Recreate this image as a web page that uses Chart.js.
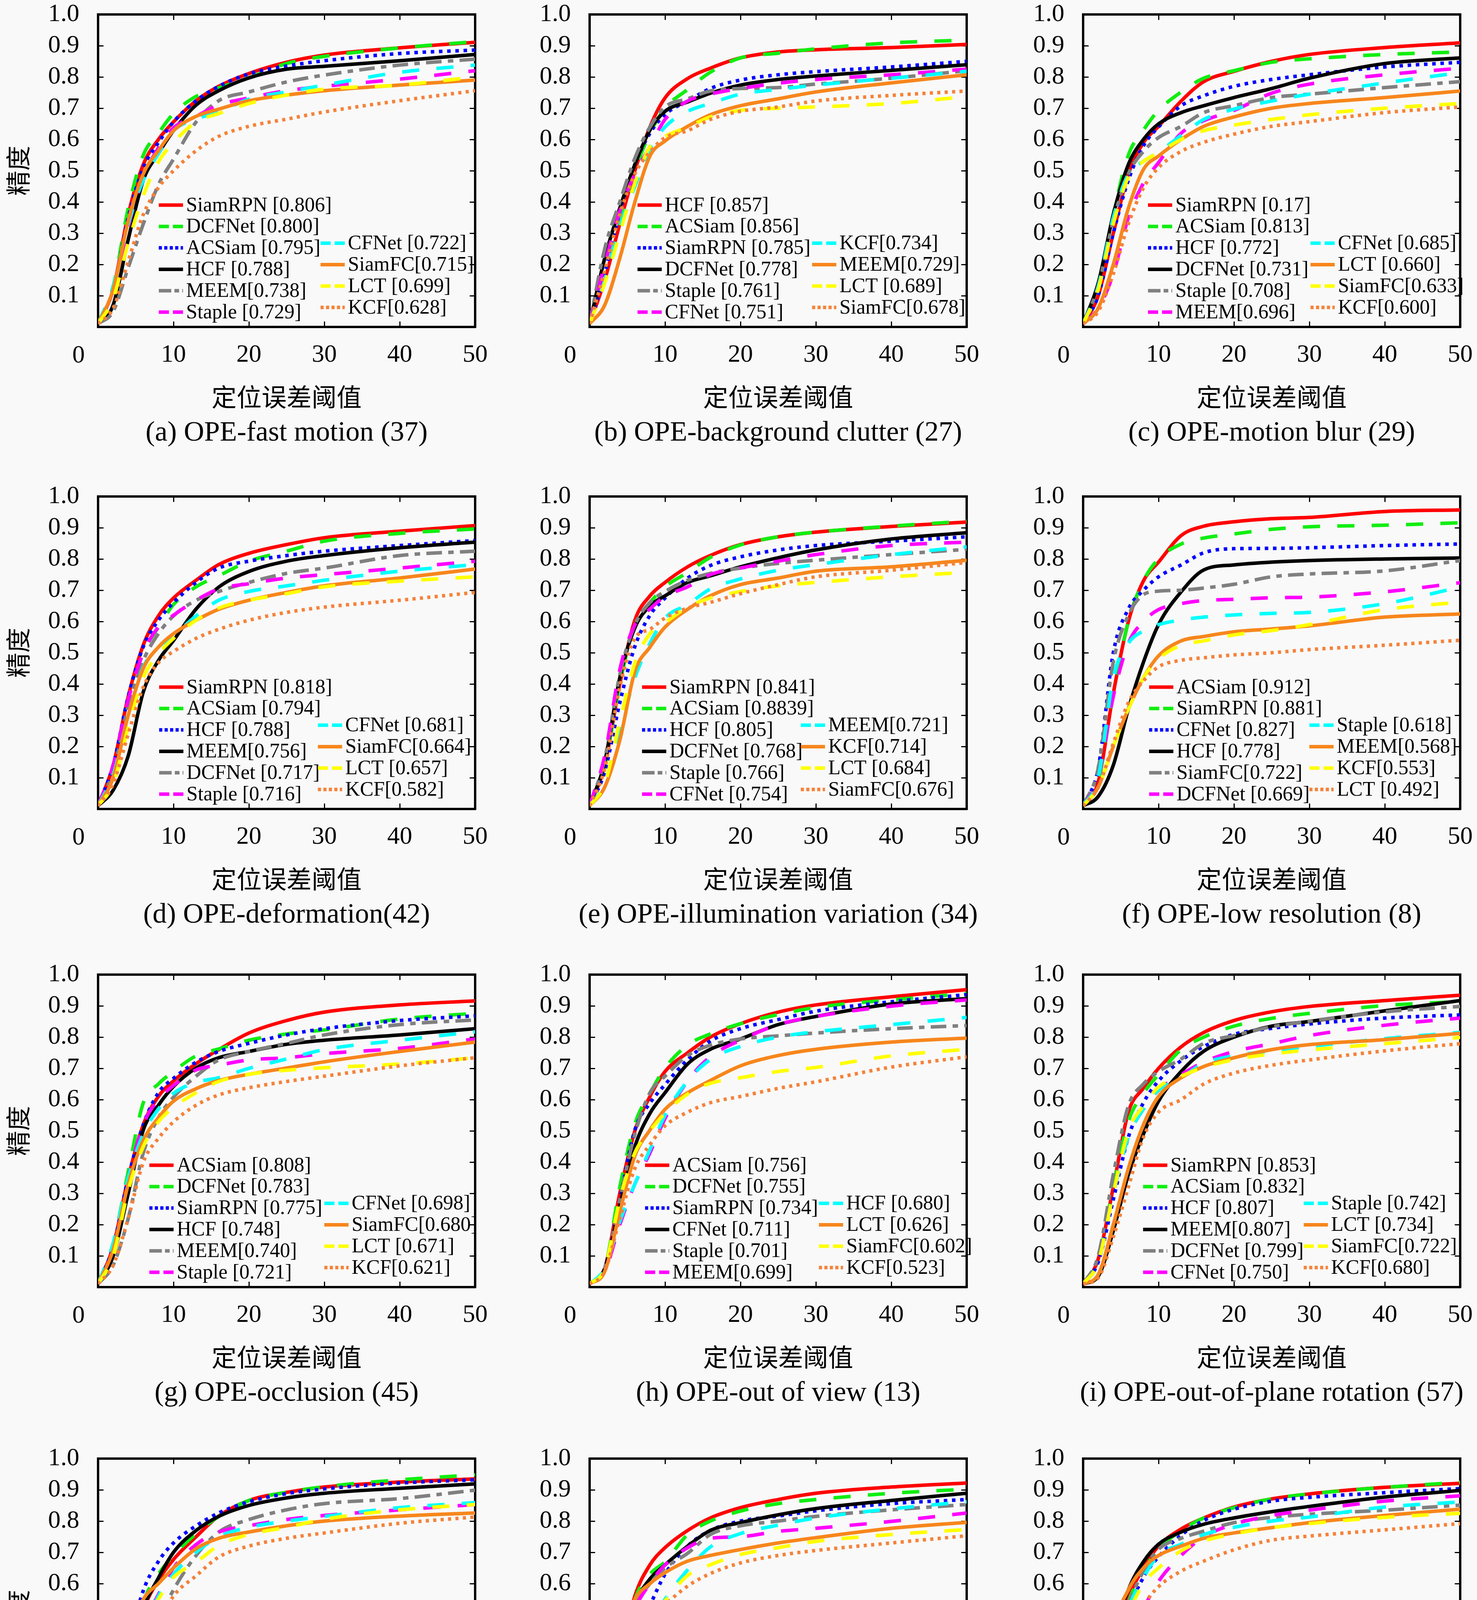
<!DOCTYPE html>
<html>
<head>
<meta charset="utf-8">
<script src="https://cdn.jsdelivr.net/npm/chart.js@4.4.1/dist/chart.umd.min.js"></script>
<style>
  html, body { margin: 0; padding: 0; background: #f9f9f9; }
  body { width: 3780px; height: 4859px; position: relative; overflow: hidden; }
  canvas { position: absolute; }
</style>
</head>
<body>
<script>
const thresholds = [0, 2, 4, 6, 8, 10, 13, 16, 20, 25, 30, 40, 50];

// (a) fast motion
const fastMotionLabels = ['SiamRPN [0.806]', 'DCFNet [0.800]', 'ACSiam [0.795]', 'HCF [0.788]', 'MEEM[0.738]',
  'Staple [0.729]', 'CFNet [0.722]', 'SiamFC[0.715]', 'LCT [0.699]', 'KCF[0.628]'];
const fastMotion = [
  [0.01, 0.12, 0.36, 0.52, 0.60, 0.656, 0.724, 0.77, 0.811, 0.847, 0.87, 0.893, 0.911],
  [0.01, 0.13, 0.38, 0.55, 0.62, 0.683, 0.738, 0.765, 0.797, 0.843, 0.866, 0.893, 0.913],
  [0.01, 0.12, 0.35, 0.51, 0.59, 0.656, 0.724, 0.77, 0.81, 0.835, 0.852, 0.875, 0.886],
  [0.01, 0.07, 0.28, 0.47, 0.555, 0.628, 0.71, 0.756, 0.797, 0.825, 0.834, 0.852, 0.872],
  [0.01, 0.05, 0.19, 0.33, 0.455, 0.537, 0.656, 0.724, 0.752, 0.784, 0.806, 0.838, 0.857],
  [0.01, 0.10, 0.32, 0.48, 0.573, 0.637, 0.674, 0.71, 0.733, 0.756, 0.77, 0.793, 0.82],
  [0.01, 0.13, 0.33, 0.47, 0.555, 0.628, 0.665, 0.688, 0.729, 0.752, 0.774, 0.815, 0.838],
  [0.01, 0.12, 0.34, 0.49, 0.564, 0.628, 0.674, 0.697, 0.724, 0.742, 0.756, 0.774, 0.79],
  [0.01, 0.09, 0.27, 0.42, 0.528, 0.59, 0.656, 0.683, 0.715, 0.742, 0.761, 0.774, 0.80],
  [0.01, 0.06, 0.21, 0.36, 0.446, 0.50, 0.564, 0.61, 0.642, 0.665, 0.688, 0.724, 0.756]
];

// (b) background clutter
const clutterLabels = ['HCF [0.857]', 'ACSiam [0.856]', 'SiamRPN [0.785]', 'DCFNet [0.778]', 'Staple [0.761]',
  'CFNet [0.751]', 'KCF[0.734]', 'MEEM[0.729]', 'LCT [0.689]', 'SiamFC[0.678]'];
const clutter = [
  [0.01, 0.15, 0.33, 0.50, 0.64, 0.733, 0.795, 0.828, 0.861, 0.88, 0.887, 0.894, 0.904],
  [0.01, 0.15, 0.34, 0.50, 0.62, 0.70, 0.76, 0.815, 0.861, 0.876, 0.89, 0.909, 0.918],
  [0.01, 0.17, 0.37, 0.52, 0.62, 0.68, 0.723, 0.763, 0.79, 0.807, 0.817, 0.832, 0.85],
  [0.01, 0.22, 0.38, 0.52, 0.63, 0.69, 0.72, 0.748, 0.774, 0.792, 0.803, 0.821, 0.839],
  [0.01, 0.25, 0.40, 0.54, 0.64, 0.704, 0.73, 0.755, 0.763, 0.766, 0.777, 0.796, 0.82],
  [0.01, 0.20, 0.37, 0.49, 0.577, 0.664, 0.723, 0.745, 0.763, 0.78, 0.792, 0.807, 0.825],
  [0.01, 0.15, 0.32, 0.45, 0.57, 0.64, 0.69, 0.715, 0.745, 0.76, 0.774, 0.796, 0.818],
  [0.01, 0.07, 0.22, 0.40, 0.547, 0.595, 0.642, 0.679, 0.708, 0.73, 0.752, 0.781, 0.807],
  [0.01, 0.14, 0.30, 0.46, 0.577, 0.61, 0.64, 0.672, 0.693, 0.70, 0.704, 0.715, 0.737],
  [0.01, 0.18, 0.36, 0.49, 0.56, 0.606, 0.628, 0.664, 0.69, 0.704, 0.723, 0.741, 0.755]
];

// (c) motion blur
const blurLabels = ['SiamRPN [0.17]', 'ACSiam [0.813]', 'HCF [0.772]', 'DCFNet [0.731]', 'Staple [0.708]',
  'MEEM[0.696]', 'CFNet [0.685]', 'LCT [0.660]', 'SiamFC[0.633]', 'KCF[0.600]'];
const blur = [
  [0.01, 0.10, 0.30, 0.49, 0.59, 0.642, 0.723, 0.785, 0.818, 0.85, 0.872, 0.894, 0.909],
  [0.01, 0.12, 0.36, 0.55, 0.63, 0.693, 0.752, 0.796, 0.82, 0.847, 0.858, 0.872, 0.88],
  [0.01, 0.10, 0.30, 0.47, 0.58, 0.64, 0.708, 0.74, 0.77, 0.792, 0.807, 0.832, 0.847],
  [0.01, 0.14, 0.36, 0.52, 0.60, 0.65, 0.686, 0.708, 0.734, 0.763, 0.796, 0.843, 0.861],
  [0.01, 0.13, 0.34, 0.49, 0.562, 0.606, 0.642, 0.686, 0.708, 0.734, 0.745, 0.766, 0.785],
  [0.01, 0.06, 0.17, 0.35, 0.46, 0.526, 0.62, 0.66, 0.693, 0.748, 0.777, 0.807, 0.828],
  [0.01, 0.13, 0.35, 0.49, 0.53, 0.56, 0.613, 0.664, 0.697, 0.723, 0.745, 0.781, 0.814],
  [0.01, 0.06, 0.20, 0.38, 0.504, 0.547, 0.60, 0.642, 0.672, 0.70, 0.715, 0.734, 0.755],
  [0.01, 0.12, 0.33, 0.48, 0.53, 0.558, 0.60, 0.628, 0.646, 0.664, 0.679, 0.70, 0.715],
  [0.01, 0.05, 0.17, 0.33, 0.445, 0.51, 0.562, 0.591, 0.617, 0.642, 0.657, 0.686, 0.704]
];

// (d) deformation
const deformLabels = ['SiamRPN [0.818]', 'ACSiam [0.794]', 'HCF [0.788]', 'MEEM[0.756]', 'DCFNet [0.717]',
  'Staple [0.716]', 'CFNet [0.681]', 'SiamFC[0.664]', 'LCT [0.657]', 'KCF[0.582]'];
const deform = [
  [0.01, 0.14, 0.36, 0.525, 0.618, 0.675, 0.732, 0.782, 0.818, 0.846, 0.868, 0.889, 0.907],
  [0.01, 0.14, 0.35, 0.50, 0.582, 0.654, 0.711, 0.746, 0.793, 0.825, 0.857, 0.882, 0.896],
  [0.01, 0.14, 0.36, 0.52, 0.604, 0.66, 0.725, 0.771, 0.793, 0.811, 0.825, 0.843, 0.859],
  [0.01, 0.06, 0.17, 0.375, 0.475, 0.539, 0.64, 0.71, 0.76, 0.793, 0.811, 0.836, 0.854],
  [0.01, 0.12, 0.33, 0.475, 0.561, 0.618, 0.668, 0.696, 0.725, 0.754, 0.771, 0.811, 0.825],
  [0.01, 0.14, 0.35, 0.50, 0.582, 0.62, 0.668, 0.704, 0.721, 0.739, 0.75, 0.771, 0.793],
  [0.01, 0.11, 0.30, 0.454, 0.518, 0.554, 0.618, 0.668, 0.696, 0.714, 0.732, 0.761, 0.782],
  [0.01, 0.10, 0.30, 0.45, 0.518, 0.561, 0.604, 0.639, 0.668, 0.693, 0.714, 0.739, 0.768],
  [0.01, 0.08, 0.26, 0.42, 0.496, 0.546, 0.604, 0.643, 0.668, 0.689, 0.711, 0.729, 0.743],
  [0.01, 0.08, 0.24, 0.39, 0.468, 0.504, 0.546, 0.575, 0.604, 0.629, 0.646, 0.668, 0.693]
];

// (e) illumination variation
const illumLabels = ['SiamRPN [0.841]', 'ACSiam [0.8839]', 'HCF [0.805]', 'DCFNet [0.768]', 'Staple [0.766]',
  'CFNet [0.754]', 'MEEM[0.721]', 'KCF[0.714]', 'LCT [0.684]', 'SiamFC[0.676]'];
const illum = [
  [0.01, 0.14, 0.40, 0.604, 0.682, 0.725, 0.775, 0.811, 0.846, 0.871, 0.886, 0.904, 0.918],
  [0.01, 0.14, 0.40, 0.59, 0.66, 0.711, 0.757, 0.805, 0.845, 0.871, 0.886, 0.905, 0.921],
  [0.01, 0.12, 0.34, 0.52, 0.62, 0.675, 0.739, 0.779, 0.807, 0.829, 0.843, 0.857, 0.871],
  [0.01, 0.15, 0.42, 0.58, 0.65, 0.682, 0.725, 0.746, 0.775, 0.804, 0.829, 0.864, 0.884],
  [0.01, 0.16, 0.43, 0.589, 0.661, 0.696, 0.732, 0.754, 0.771, 0.786, 0.796, 0.814, 0.831],
  [0.01, 0.17, 0.446, 0.589, 0.64, 0.68, 0.711, 0.75, 0.771, 0.793, 0.814, 0.843, 0.854],
  [0.01, 0.08, 0.25, 0.42, 0.53, 0.611, 0.654, 0.704, 0.736, 0.764, 0.782, 0.814, 0.839],
  [0.01, 0.07, 0.22, 0.44, 0.518, 0.582, 0.639, 0.682, 0.718, 0.739, 0.761, 0.775, 0.796],
  [0.01, 0.08, 0.28, 0.468, 0.561, 0.596, 0.646, 0.675, 0.696, 0.714, 0.725, 0.743, 0.757],
  [0.01, 0.13, 0.39, 0.546, 0.575, 0.611, 0.643, 0.661, 0.689, 0.718, 0.743, 0.764, 0.789]
];

// (f) low resolution
const lowResLabels = ['ACSiam [0.912]', 'SiamRPN [0.881]', 'CFNet [0.827]', 'HCF [0.778]', 'SiamFC[0.722]',
  'DCFNet [0.669]', 'Staple [0.618]', 'MEEM[0.568]', 'KCF[0.553]', 'LCT [0.492]'];
const lowRes = [
  [0.01, 0.086, 0.37, 0.60, 0.73, 0.79, 0.875, 0.905, 0.919, 0.929, 0.933, 0.952, 0.957],
  [0.01, 0.09, 0.37, 0.60, 0.73, 0.80, 0.848, 0.867, 0.88, 0.895, 0.903, 0.908, 0.916],
  [0.01, 0.13, 0.50, 0.64, 0.70, 0.743, 0.781, 0.82, 0.833, 0.834, 0.836, 0.843, 0.848],
  [0.01, 0.04, 0.14, 0.32, 0.47, 0.59, 0.695, 0.765, 0.781, 0.79, 0.795, 0.80, 0.803],
  [0.01, 0.13, 0.47, 0.62, 0.686, 0.697, 0.70, 0.707, 0.719, 0.743, 0.752, 0.762, 0.795],
  [0.01, 0.10, 0.36, 0.53, 0.60, 0.638, 0.657, 0.667, 0.671, 0.676, 0.678, 0.695, 0.724],
  [0.01, 0.10, 0.42, 0.53, 0.57, 0.59, 0.605, 0.614, 0.621, 0.626, 0.629, 0.657, 0.71],
  [0.01, 0.07, 0.20, 0.32, 0.42, 0.49, 0.538, 0.552, 0.567, 0.576, 0.586, 0.614, 0.624],
  [0.01, 0.07, 0.20, 0.32, 0.42, 0.48, 0.524, 0.538, 0.557, 0.571, 0.59, 0.638, 0.662],
  [0.01, 0.07, 0.21, 0.34, 0.41, 0.455, 0.476, 0.484, 0.493, 0.50, 0.51, 0.524, 0.54]
];

// (g) occlusion
const occlusionLabels = ['ACSiam [0.808]', 'DCFNet [0.783]', 'SiamRPN [0.775]', 'HCF [0.748]', 'MEEM[0.740]',
  'Staple [0.721]', 'CFNet [0.698]', 'SiamFC[0.680]', 'LCT [0.671]', 'KCF[0.621]'];
const occlusion = [
  [0.01, 0.13, 0.35, 0.52, 0.61, 0.66, 0.715, 0.76, 0.813, 0.853, 0.88, 0.903, 0.916],
  [0.01, 0.14, 0.37, 0.59, 0.65, 0.69, 0.74, 0.762, 0.79, 0.81, 0.823, 0.858, 0.876],
  [0.01, 0.13, 0.35, 0.52, 0.622, 0.668, 0.72, 0.754, 0.78, 0.807, 0.827, 0.853, 0.868],
  [0.01, 0.10, 0.30, 0.503, 0.582, 0.642, 0.701, 0.734, 0.754, 0.777, 0.79, 0.807, 0.827],
  [0.01, 0.07, 0.22, 0.43, 0.542, 0.608, 0.675, 0.727, 0.754, 0.78, 0.807, 0.84, 0.855],
  [0.01, 0.13, 0.35, 0.52, 0.60, 0.645, 0.695, 0.71, 0.727, 0.734, 0.747, 0.764, 0.794],
  [0.01, 0.14, 0.35, 0.49, 0.57, 0.62, 0.655, 0.67, 0.70, 0.73, 0.76, 0.79, 0.817],
  [0.01, 0.12, 0.33, 0.47, 0.542, 0.595, 0.635, 0.661, 0.681, 0.701, 0.721, 0.754, 0.784],
  [0.01, 0.10, 0.31, 0.45, 0.529, 0.575, 0.622, 0.658, 0.681, 0.694, 0.702, 0.714, 0.734],
  [0.01, 0.07, 0.22, 0.40, 0.476, 0.529, 0.582, 0.615, 0.638, 0.658, 0.675, 0.708, 0.734]
];

// (h) out of view
const outViewLabels = ['ACSiam [0.756]', 'DCFNet [0.755]', 'SiamRPN [0.734]', 'CFNet [0.711]', 'Staple [0.701]',
  'MEEM[0.699]', 'HCF [0.680]', 'LCT [0.626]', 'SiamFC[0.602]', 'KCF[0.523]'];
const outView = [
  [0.01, 0.06, 0.30, 0.50, 0.61, 0.69, 0.75, 0.80, 0.843, 0.88, 0.903, 0.929, 0.952],
  [0.01, 0.06, 0.32, 0.522, 0.62, 0.701, 0.775, 0.81, 0.843, 0.872, 0.895, 0.919, 0.939],
  [0.01, 0.06, 0.28, 0.503, 0.589, 0.648, 0.728, 0.787, 0.827, 0.856, 0.883, 0.913, 0.936],
  [0.01, 0.06, 0.26, 0.45, 0.556, 0.622, 0.714, 0.761, 0.794, 0.84, 0.866, 0.906, 0.923],
  [0.01, 0.06, 0.28, 0.49, 0.622, 0.675, 0.741, 0.774, 0.794, 0.804, 0.813, 0.827, 0.837],
  [0.01, 0.05, 0.20, 0.33, 0.43, 0.54, 0.66, 0.737, 0.79, 0.84, 0.866, 0.899, 0.919],
  [0.01, 0.06, 0.21, 0.33, 0.44, 0.55, 0.66, 0.728, 0.77, 0.80, 0.817, 0.84, 0.863],
  [0.01, 0.05, 0.24, 0.42, 0.503, 0.569, 0.622, 0.661, 0.708, 0.741, 0.761, 0.784, 0.797],
  [0.01, 0.06, 0.28, 0.43, 0.50, 0.556, 0.618, 0.652, 0.67, 0.69, 0.703, 0.74, 0.761],
  [0.01, 0.05, 0.22, 0.38, 0.456, 0.516, 0.56, 0.59, 0.61, 0.636, 0.657, 0.704, 0.737]
];

// (i) out-of-plane rotation
const outPlaneLabels = ['SiamRPN [0.853]', 'ACSiam [0.832]', 'HCF [0.807]', 'MEEM[0.807]', 'DCFNet [0.799]',
  'CFNet [0.750]', 'Staple [0.742]', 'LCT [0.734]', 'SiamFC[0.722]', 'KCF[0.680]'];
const outPlane = [
  [0.01, 0.09, 0.32, 0.56, 0.637, 0.70, 0.769, 0.815, 0.853, 0.881, 0.898, 0.917, 0.934],
  [0.01, 0.09, 0.32, 0.53, 0.62, 0.68, 0.76, 0.80, 0.835, 0.86, 0.876, 0.901, 0.914],
  [0.01, 0.08, 0.28, 0.48, 0.59, 0.66, 0.725, 0.77, 0.809, 0.828, 0.842, 0.861, 0.871],
  [0.01, 0.035, 0.18, 0.36, 0.49, 0.595, 0.69, 0.755, 0.80, 0.835, 0.85, 0.884, 0.917],
  [0.01, 0.10, 0.36, 0.58, 0.65, 0.69, 0.73, 0.78, 0.805, 0.833, 0.851, 0.881, 0.898],
  [0.01, 0.08, 0.30, 0.48, 0.57, 0.63, 0.68, 0.72, 0.754, 0.779, 0.805, 0.838, 0.861],
  [0.01, 0.08, 0.30, 0.48, 0.57, 0.63, 0.67, 0.716, 0.74, 0.755, 0.77, 0.795, 0.815],
  [0.01, 0.04, 0.20, 0.38, 0.52, 0.61, 0.67, 0.706, 0.734, 0.76, 0.776, 0.792, 0.812],
  [0.01, 0.08, 0.30, 0.50, 0.58, 0.64, 0.675, 0.703, 0.728, 0.746, 0.759, 0.779, 0.799],
  [0.01, 0.03, 0.16, 0.32, 0.48, 0.56, 0.60, 0.65, 0.685, 0.71, 0.727, 0.756, 0.779]
];

// (j) in-plane rotation
const inPlaneLabels = ['HCF [0.863]', 'SiamRPN [0.860]', 'DCFNet [0.845]', 'ACSiam [0.838]', 'MEEM[0.796]',
  'Staple [0.785]', 'LCT [0.7795]', 'SiamFC[0.759]', 'CFNet [0.753]', 'KCF[0.714]'];
const inPlane = [
  [0.01, 0.09, 0.30, 0.512, 0.61, 0.677, 0.75, 0.816, 0.866, 0.892, 0.909, 0.925, 0.935],
  [0.01, 0.10, 0.34, 0.54, 0.63, 0.69, 0.76, 0.815, 0.866, 0.892, 0.91, 0.932, 0.948],
  [0.01, 0.17, 0.40, 0.578, 0.671, 0.73, 0.785, 0.826, 0.862, 0.888, 0.903, 0.922, 0.932],
  [0.01, 0.09, 0.34, 0.52, 0.618, 0.70, 0.77, 0.815, 0.85, 0.874, 0.889, 0.905, 0.919],
  [0.01, 0.06, 0.23, 0.37, 0.48, 0.58, 0.69, 0.765, 0.805, 0.836, 0.856, 0.872, 0.899],
  [0.01, 0.08, 0.30, 0.466, 0.565, 0.65, 0.725, 0.765, 0.785, 0.805, 0.818, 0.836, 0.853],
  [0.01, 0.08, 0.30, 0.45, 0.56, 0.63, 0.70, 0.75, 0.78, 0.80, 0.815, 0.843, 0.859],
  [0.01, 0.10, 0.43, 0.55, 0.60, 0.65, 0.712, 0.745, 0.765, 0.785, 0.80, 0.816, 0.826],
  [0.01, 0.09, 0.33, 0.46, 0.55, 0.62, 0.668, 0.722, 0.757, 0.78, 0.806, 0.836, 0.853],
  [0.01, 0.07, 0.22, 0.354, 0.47, 0.56, 0.625, 0.685, 0.72, 0.745, 0.762, 0.793, 0.813]
];

// (k) scale variation
const scaleLabels = ['SiamRPN [0.846]', 'ACSiam [0.825]', 'HCF [0.800]', 'DCFNet [0.787]', 'CFNet [0.766]',
  'Staple [0.753]', 'MEEM[0.747]', 'SiamFC[0.716]', 'LCT [0.685]', 'KCF[0.655]'];
const scaleVar = [
  [0.01, 0.11, 0.36, 0.56, 0.66, 0.715, 0.77, 0.81, 0.843, 0.869, 0.889, 0.909, 0.922],
  [0.01, 0.11, 0.36, 0.55, 0.63, 0.67, 0.757, 0.80, 0.832, 0.856, 0.869, 0.889, 0.902],
  [0.01, 0.10, 0.27, 0.42, 0.53, 0.63, 0.72, 0.77, 0.80, 0.816, 0.833, 0.856, 0.869],
  [0.01, 0.16, 0.40, 0.539, 0.615, 0.66, 0.72, 0.77, 0.795, 0.82, 0.84, 0.866, 0.889],
  [0.01, 0.16, 0.40, 0.53, 0.60, 0.65, 0.697, 0.757, 0.785, 0.80, 0.815, 0.836, 0.853],
  [0.01, 0.15, 0.38, 0.52, 0.60, 0.66, 0.715, 0.745, 0.75, 0.767, 0.777, 0.799, 0.826],
  [0.01, 0.10, 0.25, 0.38, 0.466, 0.55, 0.644, 0.717, 0.76, 0.787, 0.81, 0.839, 0.862],
  [0.01, 0.12, 0.42, 0.55, 0.60, 0.635, 0.672, 0.69, 0.709, 0.73, 0.747, 0.777, 0.796],
  [0.01, 0.10, 0.27, 0.38, 0.48, 0.545, 0.626, 0.66, 0.693, 0.715, 0.735, 0.757, 0.773],
  [0.01, 0.08, 0.24, 0.354, 0.47, 0.53, 0.592, 0.632, 0.666, 0.69, 0.706, 0.73, 0.753]
];

// (l) precision plots of OPE
const overallLabels = ['SiamRPN [0.848]', 'ACSiam [0.842]', 'HCF [0.837]', 'DCFNet [0.817]', 'Staple [0.788]',
  'MEEM[0.786]', 'CFNet [0.772]', 'SiamFC[0.755]', 'LCT [0.755]', 'KCF[0.697]'];
const overall = [
  [0.01, 0.08, 0.36, 0.55, 0.65, 0.72, 0.775, 0.81, 0.845, 0.871, 0.887, 0.908, 0.921],
  [0.01, 0.08, 0.36, 0.54, 0.64, 0.71, 0.77, 0.81, 0.843, 0.871, 0.887, 0.908, 0.924],
  [0.01, 0.08, 0.30, 0.51, 0.62, 0.686, 0.755, 0.802, 0.838, 0.864, 0.876, 0.891, 0.904],
  [0.01, 0.10, 0.42, 0.58, 0.67, 0.726, 0.765, 0.79, 0.81, 0.83, 0.847, 0.877, 0.898],
  [0.01, 0.09, 0.35, 0.53, 0.64, 0.71, 0.745, 0.768, 0.795, 0.812, 0.822, 0.835, 0.851],
  [0.01, 0.06, 0.30, 0.42, 0.52, 0.607, 0.69, 0.75, 0.79, 0.818, 0.835, 0.864, 0.881],
  [0.01, 0.08, 0.34, 0.52, 0.62, 0.69, 0.726, 0.757, 0.78, 0.80, 0.813, 0.845, 0.861],
  [0.01, 0.10, 0.45, 0.58, 0.65, 0.69, 0.72, 0.745, 0.762, 0.779, 0.795, 0.818, 0.838],
  [0.01, 0.08, 0.33, 0.50, 0.60, 0.65, 0.705, 0.736, 0.759, 0.779, 0.792, 0.812, 0.825],
  [0.01, 0.06, 0.27, 0.43, 0.53, 0.59, 0.64, 0.672, 0.708, 0.739, 0.752, 0.772, 0.792]
];

// line style per legend rank (same in every panel)
const rankStyles = [
  { color: '#ff0000', dash: [], key: [] },
  { color: '#11ee11', dash: [44, 44], key: [26, 10] },
  { color: '#0000ff', dash: [9, 12], key: [8, 6] },
  { color: '#000000', dash: [], key: [] },
  { color: '#808080', dash: [40, 16, 14, 16], key: [32, 8, 12, 8] },
  { color: '#ff00ff', dash: [44, 44], key: [26, 10] },
  { color: '#00ffff', dash: [44, 44], key: [26, 10] },
  { color: '#f7861c', dash: [], key: [] },
  { color: '#ffff00', dash: [44, 44], key: [26, 10] },
  { color: '#f5823a', dash: [8, 11], key: [8, 6] }
];

const panels = [
  { caption: '(a) OPE-fast motion (37)', labels: fastMotionLabels, series: fastMotion, keyL: 0.161, keyR: 0.59 },
  { caption: '(b) OPE-background clutter (27)', labels: clutterLabels, series: clutter, keyL: 0.127, keyR: 0.59 },
  { caption: '(c) OPE-motion blur (29)', labels: blurLabels, series: blur, keyL: 0.172, keyR: 0.603 },
  { caption: '(d) OPE-deformation(42)', labels: deformLabels, series: deform, keyL: 0.162, keyR: 0.583 },
  { caption: '(e) OPE-illumination variation (34)', labels: illumLabels, series: illum, keyL: 0.139, keyR: 0.56 },
  { caption: '(f) OPE-low resolution (8)', labels: lowResLabels, series: lowRes, keyL: 0.175, keyR: 0.60 },
  { caption: '(g) OPE-occlusion (45)', labels: occlusionLabels, series: occlusion, keyL: 0.136, keyR: 0.60 },
  { caption: '(h) OPE-out of view (13)', labels: outViewLabels, series: outView, keyL: 0.147, keyR: 0.608 },
  { caption: '(i) OPE-out-of-plane rotation (57)', labels: outPlaneLabels, series: outPlane, keyL: 0.159, keyR: 0.585 },
  { caption: '(j) OPE-in-plane rotation (46)', labels: inPlaneLabels, series: inPlane, keyL: 0.159, keyR: 0.588 },
  { caption: '(k) OPE-scale variation (60)', labels: scaleLabels, series: scaleVar, keyL: 0.164, keyR: 0.593 },
  { caption: '(l) Precision plots of OPE', labels: overallLabels, series: overall, keyL: 0.162, keyR: 0.59 }
];

const colX = [251, 1509, 2772];
const rowY = [37, 1271, 2495, 3734];
// TOP and RIGHT leave room for the tick label padding Chart.js reserves
const BOX_W = 965, BOX_H = 800, LEFT = 250, TOP = 105, RIGHT = 85, BOTTOM = 320;
const SERIF = '"Liberation Serif", "Times New Roman", serif';
const CJK = '"Noto Sans CJK SC", sans-serif';

// captions, axis titles and the offset "0" under the corner
const panelText = {
  id: 'panelText',
  afterDraw(chart, args, opts) {
    const { ctx, chartArea: a } = chart;
    const cx = (a.left + a.right) / 2;
    ctx.save();
    ctx.fillStyle = '#000';
    ctx.textAlign = 'center';
    ctx.textBaseline = 'middle';
    ctx.font = '64px ' + SERIF;
    ctx.fillText('0', a.left - 50, a.bottom + 74);
    ctx.font = '64px ' + CJK;
    ctx.fillText('定位误差阈值', cx, a.bottom + 179);
    ctx.font = '72px ' + SERIF;
    ctx.fillText(opts.caption, cx, a.bottom + 272);
    if (opts.yTitle) {
      ctx.translate(a.left - 205, (a.top + a.bottom) / 2);
      ctx.rotate(-Math.PI / 2);
      ctx.font = '64px ' + CJK;
      ctx.fillText('精度', 0, 0);
    }
    ctx.restore();
  }
};

// two-column legend inside the plot box, as in the original figure
const boxLegend = {
  id: 'boxLegend',
  afterDatasetsDraw(chart, args, opts) {
    const { ctx, chartArea: a, scales } = chart;
    const w = a.right - a.left;
    ctx.save();
    ctx.font = '52px ' + SERIF;
    ctx.textBaseline = 'middle';
    ctx.textAlign = 'left';
    chart.data.datasets.forEach((ds, i) => {
      const left = i < 6;
      const x0 = a.left + w * (left ? opts.keyL : opts.keyR);
      const yv = left ? 0.39 - i * 0.0685 : 0.268 - (i - 6) * 0.0685;
      const y = scales.y.getPixelForValue(yv);
      ctx.strokeStyle = ds.borderColor;
      ctx.lineWidth = 9;
      ctx.setLineDash(rankStyles[i].key);
      ctx.beginPath();
      ctx.moveTo(x0, y);
      ctx.lineTo(x0 + 62, y);
      ctx.stroke();
      ctx.setLineDash([]);
      ctx.fillStyle = '#000';
      ctx.fillText(ds.label, x0 + 70, y + 2);
    });
    ctx.restore();
  }
};

const frameGrid = {
  drawOnChartArea: false,
  drawTicks: true,
  tickLength: -14,
  lineWidth: 3,
  color: '#000'
};
const frameBorder = { display: true, width: 6, color: '#000' };

panels.forEach((p, idx) => {
  const col = idx % 3, row = Math.floor(idx / 3);
  const canvas = document.createElement('canvas');
  const cw = LEFT + BOX_W + RIGHT, ch = TOP + BOX_H + BOTTOM;
  canvas.width = cw;
  canvas.height = ch;
  canvas.style.width = cw + 'px';
  canvas.style.height = ch + 'px';
  canvas.style.left = (colX[col] - LEFT) + 'px';
  canvas.style.top = (rowY[row] - TOP) + 'px';
  document.body.appendChild(canvas);

  const datasets = p.series.map((vals, i) => ({
    label: p.labels[i],
    data: thresholds.map((x, j) => ({ x: x, y: vals[j] })),
    borderColor: rankStyles[i].color,
    borderDash: rankStyles[i].dash,
    borderWidth: 9,
    borderCapStyle: 'butt',
    pointRadius: 0,
    fill: false,
    cubicInterpolationMode: 'monotone',
    order: 10 - i
  }));

  new Chart(canvas, {
    type: 'line',
    data: { datasets: datasets },
    options: {
      responsive: false,
      devicePixelRatio: 1,
      animation: false,
      layout: { padding: 0 },
      plugins: {
        legend: { display: false },
        tooltip: { enabled: false },
        panelText: { caption: p.caption, yTitle: col === 0 },
        boxLegend: { keyL: p.keyL, keyR: p.keyR }
      },
      scales: {
        x: {
          type: 'linear', position: 'bottom', min: 0, max: 50,
          ticks: {
            stepSize: 10, padding: 48, color: '#000', maxRotation: 0,
            font: { family: SERIF, size: 64 },
            callback: v => (v === 0 ? '' : v)
          },
          grid: frameGrid, border: frameBorder,
          afterFit: s => { s.height = BOTTOM; }
        },
        y: {
          type: 'linear', position: 'left', min: 0, max: 1,
          ticks: {
            stepSize: 0.1, padding: 62, color: '#000',
            font: { family: SERIF, size: 64 },
            callback: v => (v === 0 ? '' : v.toFixed(1))
          },
          grid: frameGrid, border: frameBorder,
          afterFit: s => { s.width = LEFT; }
        },
        x2: {
          type: 'linear', position: 'top', min: 0, max: 50,
          ticks: { stepSize: 10, display: false },
          grid: frameGrid, border: frameBorder,
          afterFit: s => { s.height = TOP; }
        },
        y2: {
          type: 'linear', position: 'right', min: 0, max: 1,
          ticks: { stepSize: 0.1, display: false },
          grid: frameGrid, border: frameBorder,
          afterFit: s => { s.width = RIGHT; }
        }
      }
    },
    plugins: [panelText, boxLegend]
  });
});
</script>
</body>
</html>
